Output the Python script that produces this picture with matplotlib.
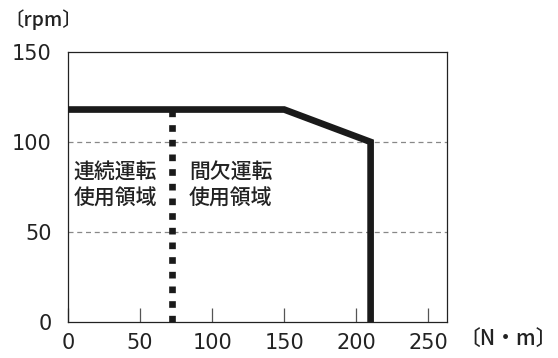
import matplotlib
matplotlib.use("Agg")
import matplotlib.pyplot as plt

plt.rcParams['font.family'] = ['Noto Sans CJK JP', 'DejaVu Sans']

# DATA
torque_curve = [0, 150, 210, 210]      # N·m
speed_curve = [118, 118, 100, 0]       # rpm
cont_limit_x = [72, 72]
cont_limit_y = [0, 118]
xticks = [0, 50, 100, 150, 200, 250]
yticks = [0, 50, 100, 150]
label_cont = "連続運転\n使用領域"
label_inter = "間欠運転\n使用領域"

fig = plt.figure(figsize=(5.58, 3.58), dpi=100)
ax = fig.add_axes([0.122, 0.1006, 0.679, 0.7544])

ax.set_xlim(0, 263)
ax.set_ylim(0, 150)

for y in [50, 100]:
    ax.axhline(y, color="#888888", lw=0.9, ls=(0, (4, 3)), zorder=1)

ax.plot(torque_curve, speed_curve, color="#1a1a1a", lw=4.8,
        solid_joinstyle="miter", solid_capstyle="butt", zorder=3)
ax.plot(cont_limit_x, cont_limit_y, color="#1a1a1a", lw=4.8,
        ls=(0, (1.0, 1.2)), dash_capstyle="butt", zorder=3)

ax.text(4, 76, label_cont, fontsize=15, va="center", ha="left",
        linespacing=1.25, color="#222222", fontweight="medium", zorder=4)
ax.text(84, 76, label_inter, fontsize=15, va="center", ha="left",
        linespacing=1.25, color="#222222", fontweight="medium", zorder=4)

ax.set_xticks(xticks)
ax.set_yticks(yticks)
ax.tick_params(axis="x", direction="in", length=10, width=0.9, color="#555555",
               labelsize=15, pad=8, labelcolor="#222222")
ax.tick_params(axis="y", length=0, labelsize=15, pad=12, labelcolor="#222222")
for lab in ax.get_xticklabels() + ax.get_yticklabels():
    lab.set_family(['DejaVu Sans', 'Noto Sans CJK JP'])
for s in ax.spines.values():
    s.set_linewidth(0.9)
    s.set_color("#222222")

fig.text(0.008, 0.945, "〔rpm〕", fontsize=14, ha="left", va="center",
         color="#222222", fontweight="medium")
fig.text(0.998, 0.05, "〔N・m〕", fontsize=15, ha="right", va="center",
         color="#222222", fontweight="medium")

fig.savefig("out.png", dpi=100)
